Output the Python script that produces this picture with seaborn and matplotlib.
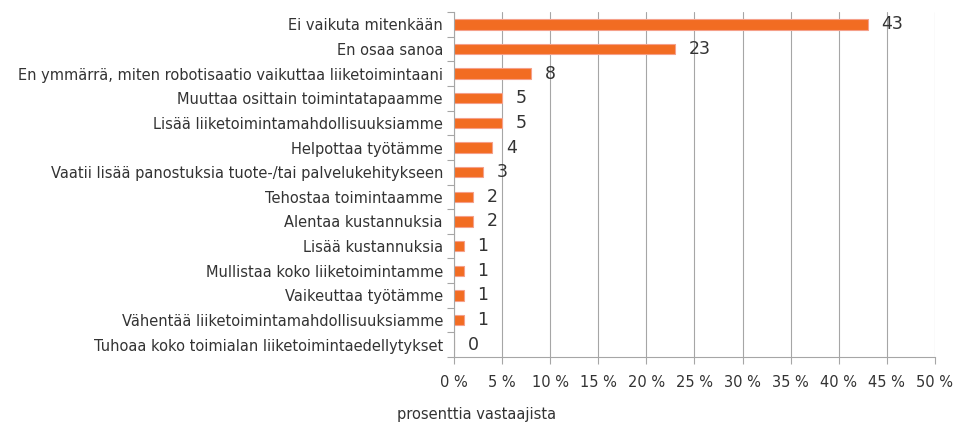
import pandas as pd
import numpy as np
import matplotlib
matplotlib.use("Agg")
import matplotlib.pyplot as plt
import seaborn as sns

vaihtoehdot = [
    "Ei vaikuta mitenkään",
    "En osaa sanoa",
    "En ymmärrä, miten robotisaatio vaikuttaa liiketoimintaani",
    "Muuttaa osittain toimintatapaamme",
    "Lisää liiketoimintamahdollisuuksiamme",
    "Helpottaa työtämme",
    "Vaatii lisää panostuksia tuote-/tai palvelukehitykseen",
    "Tehostaa toimintaamme",
    "Alentaa kustannuksia",
    "Lisää kustannuksia",
    "Mullistaa koko liiketoimintamme",
    "Vaikeuttaa työtämme",
    "Vähentää liiketoimintamahdollisuuksiamme",
    "Tuhoaa koko toimialan liiketoimintaedellytykset",
]
osuus = [43, 23, 8, 5, 5, 4, 3, 2, 2, 1, 1, 1, 1, 0]
x_ticks = [0, 5, 10, 15, 20, 25, 30, 35, 40, 45, 50]

df = pd.DataFrame({"vaihtoehto": vaihtoehdot, "osuus": osuus})

sns.set_style("white")
plt.rcParams["font.family"] = ["DejaVu Sans"]
txt = "#333333"
grid = "#a6a6a6"

fig = plt.figure(figsize=(9.55, 4.32), dpi=100)
ax = fig.add_axes([0.4754, 0.1736, 0.5036, 0.7986])

sns.barplot(data=df, y="vaihtoehto", x="osuus", orient="h", color="#f26c22",
            width=0.42, saturation=1, edgecolor="#f5a08a", linewidth=0.8, ax=ax)

for i, v in enumerate(osuus):
    ax.text(v + 1.4, i, str(v), va="center", ha="left", fontsize=12.5, color=txt)

ax.set_xlim(0, 50)
ax.set_ylim(len(vaihtoehdot) - 0.5, -0.5)
ax.set_xticks(x_ticks)
ax.set_xticklabels([f"{t} %" for t in x_ticks], fontsize=10.5, color=txt)
ax.tick_params(axis="y", which="major", length=0, labelsize=10.5, labelcolor=txt, pad=8)
ax.set_yticks(np.arange(-0.5, len(vaihtoehdot), 1), minor=True)
ax.tick_params(axis="y", which="minor", left=True, length=5, color=grid, width=0.8)
ax.tick_params(axis="x", bottom=True, length=5, color=grid, width=0.8, pad=8)
ax.xaxis.grid(True, color=grid, linewidth=0.8)
ax.set_axisbelow(True)
ax.set_xlabel("")
ax.set_ylabel("")
for s in ["top", "right"]:
    ax.spines[s].set_visible(False)
for s in ["left", "bottom"]:
    ax.spines[s].set_color(grid)
    ax.spines[s].set_linewidth(0.8)

fig.text(0.499, 0.022, "prosenttia vastaajista", ha="center", va="bottom",
         fontsize=10.5, color=txt)

fig.savefig("out.png", dpi=100)
